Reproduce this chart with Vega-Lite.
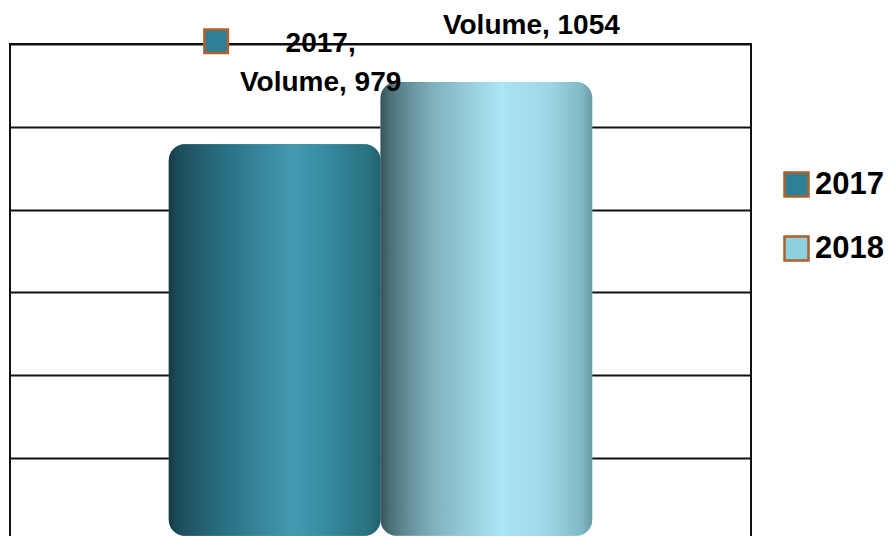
{
  "$schema": "https://vega.github.io/schema/vega-lite/v6.json",
  "width": 741,
  "height": 495,
  "autosize": {"type": "none"},
  "padding": {"left": 10, "top": 44, "right": 142, "bottom": -3},
  "background": "white",
  "config": {
    "view": {"stroke": "#111111", "strokeWidth": 2},
    "font": "Liberation Sans"
  },
  "data": {
    "values": [
      {"year": "2017", "measure": "Volume", "value": 979},
      {"year": "2018", "measure": "Volume", "value": 1054}
    ]
  },
  "transform": [
    {"calculate": "datum.measure + ', ' + datum.value", "as": "label"},
    {"calculate": "datum.year + ','", "as": "yearlabel"}
  ],
  "encoding": {
    "x": {
      "field": "year",
      "type": "nominal",
      "axis": null,
      "scale": {"paddingInner": 0, "paddingOuter": 0.75}
    },
    "y": {
      "field": "value",
      "type": "quantitative",
      "scale": {"domain": [502, 1100], "zero": false, "nice": false},
      "axis": {
        "values": [600, 700, 800, 900, 1000, 1100],
        "grid": true,
        "gridColor": "#111111",
        "gridWidth": 2,
        "labels": false,
        "ticks": false,
        "domain": false,
        "title": null
      }
    }
  },
  "layer": [
    {
      "mark": {"type": "bar", "cornerRadius": 16},
      "encoding": {
        "y2": {"datum": 506},
        "color": {
          "field": "year",
          "type": "nominal",
          "scale": {"range": ["#2e8097", "#8fd0e0"]},
          "legend": {
            "title": null,
            "orient": "none",
            "legendX": 771,
            "legendY": 125,
            "padding": 0,
            "symbolType": "square",
            "symbolSize": 576,
            "symbolStrokeColor": "#b0602a",
            "symbolStrokeWidth": 2.5,
            "symbolOpacity": 1,
            "labelFont": "Liberation Sans",
            "labelFontSize": 31,
            "labelFontWeight": "bold",
            "labelColor": "#000000",
            "labelOffset": 3,
            "rowPadding": 29,
            "encode": {
              "symbols": {
                "update": {
                  "stroke": {"value": "#b0602a"},
                  "strokeWidth": {"value": 2.5}
                }
              }
            }
          }
        }
      }
    },
    {
      "transform": [{"filter": "datum.year == '2017'"}],
      "mark": {
        "type": "bar",
        "cornerRadius": 16,
        "color": {
          "gradient": "linear",
          "x1": 0, "x2": 1, "y1": 0, "y2": 0,
          "stops": [
            {"offset": 0, "color": "#163a44"},
            {"offset": 0.05, "color": "#1d4f5c"},
            {"offset": 0.15, "color": "#245e6e"},
            {"offset": 0.3, "color": "#2b7588"},
            {"offset": 0.58, "color": "#4499b0"},
            {"offset": 0.7, "color": "#3a90a6"},
            {"offset": 0.95, "color": "#28717f"},
            {"offset": 1, "color": "#22606e"}
          ]
        }
      },
      "encoding": {"y2": {"datum": 506}}
    },
    {
      "transform": [{"filter": "datum.year == '2018'"}],
      "mark": {
        "type": "bar",
        "cornerRadius": 16,
        "color": {
          "gradient": "linear",
          "x1": 0, "x2": 1, "y1": 0, "y2": 0,
          "stops": [
            {"offset": 0, "color": "#3a545b"},
            {"offset": 0.05, "color": "#4d7079"},
            {"offset": 0.12, "color": "#618c96"},
            {"offset": 0.25, "color": "#80b1bd"},
            {"offset": 0.57, "color": "#abe6f5"},
            {"offset": 0.8, "color": "#9dd5e4"},
            {"offset": 0.95, "color": "#80b8c5"},
            {"offset": 1, "color": "#6b9aa5"}
          ]
        }
      },
      "encoding": {"y2": {"datum": 506}}
    },
    {
      "transform": [{"filter": "datum.year == '2017'"}],
      "mark": {
        "type": "text",
        "dx": 46,
        "dy": -53,
        "align": "center",
        "baseline": "alphabetic",
        "font": "Liberation Sans",
        "fontSize": 28,
        "fontWeight": "bold",
        "color": "#000000"
      },
      "encoding": {"text": {"field": "label"}}
    },
    {
      "transform": [{"filter": "datum.year == '2017'"}],
      "mark": {
        "type": "text",
        "dx": 46,
        "dy": -92,
        "align": "center",
        "baseline": "alphabetic",
        "font": "Liberation Sans",
        "fontSize": 28,
        "fontWeight": "bold",
        "color": "#000000"
      },
      "encoding": {"text": {"field": "yearlabel"}}
    },
    {
      "transform": [{"filter": "datum.year == '2018'"}],
      "mark": {
        "type": "text",
        "dx": 45,
        "dy": -48,
        "align": "center",
        "baseline": "alphabetic",
        "font": "Liberation Sans",
        "fontSize": 28,
        "fontWeight": "bold",
        "color": "#000000"
      },
      "encoding": {"text": {"field": "label"}}
    },
    {
      "transform": [{"filter": "datum.year == '2017'"}],
      "mark": {
        "type": "point",
        "shape": "square",
        "filled": true,
        "size": 552,
        "fill": "#2e8097",
        "stroke": "#b0602a",
        "strokeWidth": 2.5,
        "opacity": 1,
        "xOffset": -58.5,
        "yOffset": -103
      }
    }
  ]
}
